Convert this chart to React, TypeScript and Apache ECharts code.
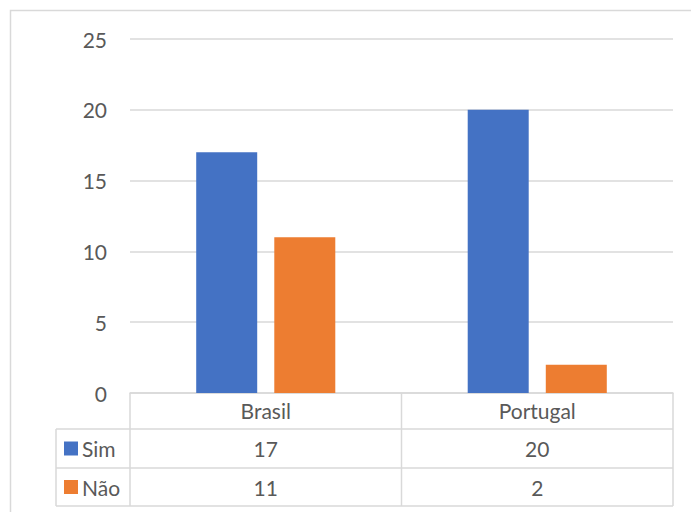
import React, { useEffect, useRef } from "react";
import * as echarts from "echarts";

const categories = ["Brasil", "Portugal"];
const seriesNames = ["Sim", "Não"];
const simValues = [17, 20];
const naoValues = [11, 2];
const yTicks = [0, 5, 10, 15, 20, 25];

const W = 691;
const H = 512;
const GRID_L = 130;
const GRID_R = 673;
const GRID_T = 39;
const AXIS_Y = 393;
const ROW1 = 429;
const ROW2 = 468;
const ROW3 = 506;
const LEG_L = 56;
const COLORS = ["#4472C4", "#ED7D31"];
const LINE = "#D9D9D9";
const TEXT = "#595959";
const FONT = "Lato, 'Open Sans', sans-serif";
const FS = 21;

export default function App() {
  const ref = useRef<HTMLDivElement>(null);
  useEffect(() => {
    if (!ref.current) return;
    const chart = echarts.init(ref.current, undefined, { renderer: "svg" });
    const values = [simValues, naoValues];
    const catW = (GRID_R - GRID_L) / categories.length;
    const rows = [
      [ROW1, ROW2],
      [ROW2, ROW3],
    ];
    const graphics: any[] = [];
    graphics.push({
      type: "rect",
      shape: { x: 10.5, y: 10.5, width: 720, height: 620 },
      style: { fill: "none", stroke: LINE, lineWidth: 1.5 },
      silent: true,
    });
    const hline = (x1: number, x2: number, y: number) =>
      graphics.push({
        type: "line",
        shape: { x1, y1: y, x2, y2: y },
        style: { stroke: LINE, lineWidth: 1.5 },
        silent: true,
      });
    const vline = (x: number, y1: number, y2: number) =>
      graphics.push({
        type: "line",
        shape: { x1: x, y1, x2: x, y2 },
        style: { stroke: LINE, lineWidth: 1.5 },
        silent: true,
      });
    hline(LEG_L, GRID_R, ROW1);
    hline(LEG_L, GRID_R, ROW2);
    hline(LEG_L, GRID_R, ROW3);
    vline(LEG_L, ROW1, ROW3);
    for (let i = 0; i <= categories.length; i++) {
      vline(GRID_L + i * catW, AXIS_Y, ROW3);
    }
    seriesNames.forEach((name, s) => {
      const [top, bot] = rows[s];
      const cy = (top + bot) / 2;
      graphics.push({
        type: "rect",
        shape: { x: 64, y: cy - 7, width: 14, height: 14 },
        style: { fill: COLORS[s] },
        silent: true,
      });
      graphics.push({
        type: "text",
        x: 82,
        y: cy,
        style: {
          text: name,
          fill: TEXT,
          font: `${FS}px ${FONT}`,
          textAlign: "left",
          textVerticalAlign: "middle",
        },
        silent: true,
      });
      categories.forEach((_, c) => {
        graphics.push({
          type: "text",
          x: GRID_L + (c + 0.5) * catW,
          y: cy,
          style: {
            text: String(values[s][c]),
            fill: TEXT,
            font: `${FS}px ${FONT}`,
            textAlign: "center",
            textVerticalAlign: "middle",
          },
          silent: true,
        });
      });
    });

    chart.setOption({
      animation: false,
      grid: {
        left: GRID_L,
        right: W - GRID_R,
        top: GRID_T,
        bottom: H - AXIS_Y,
        containLabel: false,
      },
      xAxis: {
        type: "category",
        data: categories,
        axisLine: { show: true, lineStyle: { color: LINE, width: 1.5 } },
        axisTick: { show: false },
        axisLabel: {
          color: TEXT,
          fontSize: FS,
          fontFamily: FONT,
          margin: 7,
        },
      },
      yAxis: {
        type: "value",
        min: yTicks[0],
        max: yTicks[yTicks.length - 1],
        interval: 5,
        axisLine: { show: false },
        axisTick: { show: false },
        axisLabel: {
          color: TEXT,
          fontSize: FS,
          fontFamily: FONT,
          margin: 23,
        },
        splitLine: { lineStyle: { color: LINE, width: 1.5 } },
      },
      series: [
        {
          name: seriesNames[0],
          type: "bar",
          data: simValues,
          barWidth: 61,
          barGap: "28%",
          itemStyle: { color: COLORS[0] },
        },
        {
          name: seriesNames[1],
          type: "bar",
          data: naoValues,
          barWidth: 61,
          barGap: "28%",
          itemStyle: { color: COLORS[1] },
        },
      ],
      graphic: graphics,
    });
    return () => chart.dispose();
  }, []);
  return <div ref={ref} style={{ width: W, height: H, position: "absolute", left: 0, top: 0 }} />;
}
